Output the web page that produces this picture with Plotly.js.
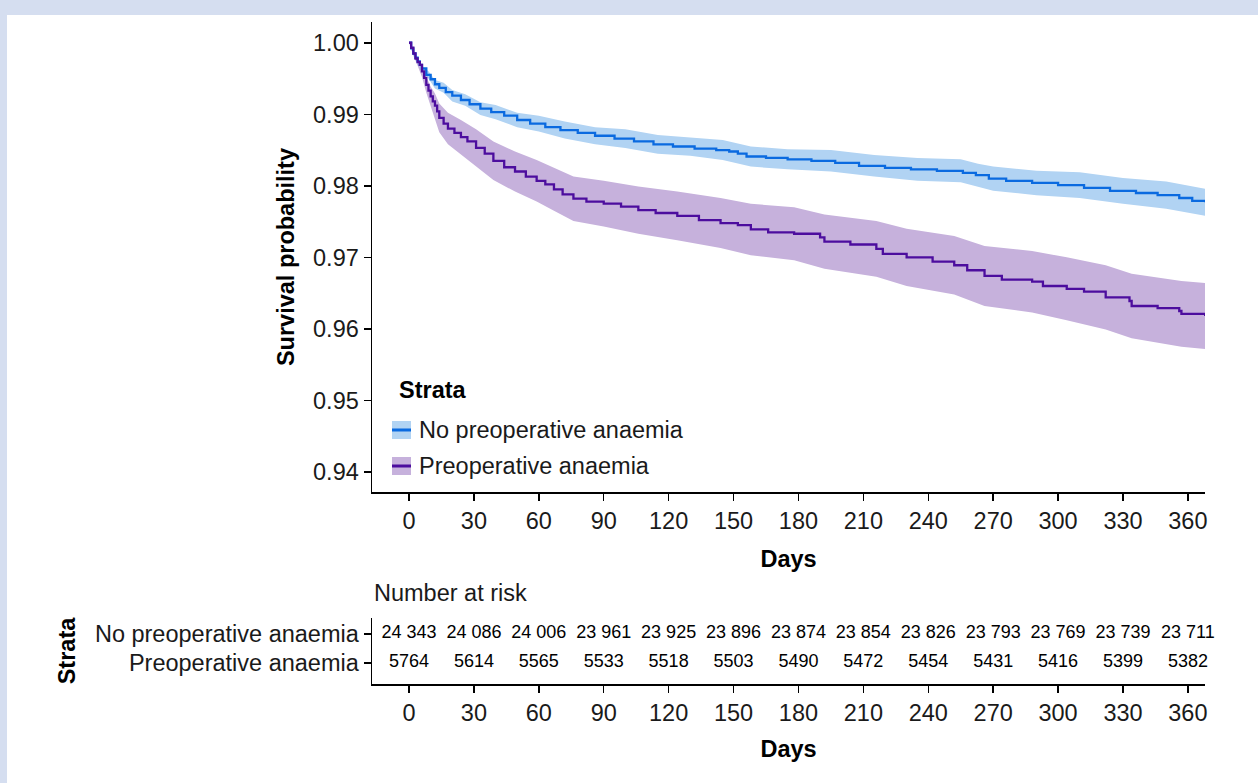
<!DOCTYPE html>
<html>
<head>
<meta charset="utf-8">
<script src="https://cdn.plot.ly/plotly-3.0.1.min.js"></script>
<style>
html,body{margin:0;padding:0;background:#d5def0;overflow:hidden;}
#chart{position:absolute;left:7px;top:15px;width:1251px;height:768px;background:#fff;}
</style>
</head>
<body>
<div id="chart"></div>
<script>
// ---- Data ----
const strataNames = ['No preoperative anaemia', 'Preoperative anaemia'];

const noAnaemiaDays = [0,1,2,3,4,5,6,8,10,12,14,17,20,24,28,33,38,44,50,56,63,70,78,86,95,104,113,122,132,142,148,152,156,165,175,186,197,208,220,232,244,256,262,268,276,288,300,312,324,336,346,356,362,368];
const noAnaemiaSurv = [1.0000,0.9992,0.9985,0.9979,0.9974,0.9969,0.9964,0.9955,0.9949,0.9942,0.9937,0.9931,0.9926,0.9920,0.9914,0.9908,0.9903,0.9898,0.9892,0.9887,0.9882,0.9878,0.9874,0.9870,0.9866,0.9862,0.9858,0.9855,0.9852,0.9850,0.9848,0.9845,0.9841,0.9839,0.9837,0.9835,0.9832,0.9828,0.9825,0.9823,0.9821,0.9818,0.9815,0.9810,0.9807,0.9804,0.9801,0.9797,0.9793,0.9790,0.9787,0.9783,0.9779,0.9777];

const noAnaemiaBandDays = [0,2,4,6,9,12,16,20,26,33,40,50,60,72,86,100,115,130,145,152,158,175,195,215,235,255,263,270,290,310,330,350,368];
const noAnaemiaUpper = [1.0000,0.9987,0.9977,0.9968,0.9960,0.9948,0.9944,0.9934,0.9928,0.9917,0.9913,0.9902,0.9898,0.9890,0.9882,0.9879,0.9871,0.9868,0.9864,0.9859,0.9855,0.9851,0.9850,0.9843,0.9839,0.9837,0.9831,0.9827,0.9821,0.9819,0.9811,0.9806,0.9796];
const noAnaemiaLower = [1.0000,0.9983,0.9971,0.9960,0.9950,0.9936,0.9930,0.9918,0.9912,0.9899,0.9893,0.9882,0.9876,0.9866,0.9858,0.9853,0.9845,0.9842,0.9836,0.9831,0.9827,0.9823,0.9820,0.9813,0.9807,0.9805,0.9799,0.9793,0.9787,0.9783,0.9775,0.9768,0.9758];

const anaemiaDays = [0,1,2,3,4,5,6,7,8,9,10,11,12,13,14,16,18,21,24,27,31,35,39,44,49,54,59,63,67,71,76,82,90,98,106,114,124,134,144,152,158,166,178,190,192,204,216,219,230,242,252,258,266,274,288,293,304,312,322,333,334,346,356,357,368];
const anaemiaSurv = [1.0000,0.9993,0.9985,0.9978,0.9973,0.9969,0.9960,0.9951,0.9941,0.9933,0.9925,0.9918,0.9912,0.9904,0.9895,0.9887,0.9880,0.9874,0.9868,0.9862,0.9853,0.9845,0.9835,0.9826,0.9820,0.9813,0.9807,0.9802,0.9795,0.9788,0.9782,0.9778,0.9775,0.9771,0.9766,0.9762,0.9758,0.9752,0.9748,0.9745,0.9739,0.9735,0.9733,0.9728,0.9722,0.9718,0.9712,0.9705,0.9700,0.9694,0.9689,0.9682,0.9674,0.9669,0.9666,0.9660,0.9656,0.9652,0.9644,0.9639,0.9632,0.9629,0.9625,0.9621,0.9618];

const anaemiaBandDays = [0,2,4,6,8,10,12,14,18,24,31,39,49,59,67,76,90,106,124,144,158,178,192,216,230,252,266,288,304,322,334,357,368];
const anaemiaUpper = [1.0000,0.9988,0.9978,0.9968,0.9952,0.9939,0.9929,0.9915,0.9902,0.9892,0.9879,0.9862,0.9848,0.9836,0.9825,0.9813,0.9807,0.9799,0.9792,0.9783,0.9775,0.9770,0.9760,0.9751,0.9740,0.9730,0.9716,0.9709,0.9700,0.9689,0.9677,0.9667,0.9664];
const anaemiaLower = [1.0000,0.9982,0.9968,0.9952,0.9930,0.9911,0.9895,0.9875,0.9858,0.9844,0.9827,0.9808,0.9792,0.9778,0.9765,0.9751,0.9743,0.9733,0.9724,0.9713,0.9703,0.9696,0.9684,0.9673,0.9660,0.9648,0.9632,0.9623,0.9612,0.9599,0.9587,0.9575,0.9572];

const riskDays = [0,30,60,90,120,150,180,210,240,270,300,330,360];
const riskNoAnaemia = [24343,24086,24006,23961,23925,23896,23874,23854,23826,23793,23769,23739,23711];
const riskAnaemia = [5764,5614,5565,5533,5518,5503,5490,5472,5454,5431,5416,5399,5382];

const survTicks = [0.94,0.95,0.96,0.97,0.98,0.99,1.00];
const survTickText = ['0.94','0.95','0.96','0.97','0.98','0.99','1.00'];

// ---- Styling ----
const FONT = 'Liberation Sans, Arial, Helvetica, sans-serif';
const FS = 23.5;
const BLUE = '#0a6ae0', BLUE_BAND = '#b1d3f3';
const PURPLE = '#4c0d9e', PURPLE_BAND = '#c6b1dc';
const X_RANGE = [-17.1, 367.9];

function fmt(n){
  const s = String(n);
  return n >= 10000 ? s.slice(0, s.length-3) + ' ' + s.slice(-3) : s;
}

const traces = [
  {x: anaemiaBandDays, y: anaemiaLower, type:'scatter', mode:'lines', line:{width:0}, showlegend:false, hoverinfo:'skip'},
  {x: anaemiaBandDays, y: anaemiaUpper, type:'scatter', mode:'lines', line:{width:0}, fill:'tonexty', fillcolor: PURPLE_BAND, showlegend:false, hoverinfo:'skip'},
  {x: noAnaemiaBandDays, y: noAnaemiaLower, type:'scatter', mode:'lines', line:{width:0}, showlegend:false, hoverinfo:'skip'},
  {x: noAnaemiaBandDays, y: noAnaemiaUpper, type:'scatter', mode:'lines', line:{width:0}, fill:'tonexty', fillcolor: BLUE_BAND, showlegend:false, hoverinfo:'skip'},
  {x: noAnaemiaDays, y: noAnaemiaSurv, type:'scatter', mode:'lines', name: strataNames[0], line:{color: BLUE, width:2.3, shape:'hv'}, showlegend:false},
  {x: anaemiaDays, y: anaemiaSurv, type:'scatter', mode:'lines', name: strataNames[1], line:{color: PURPLE, width:2.3, shape:'hv'}, showlegend:false},
  {x: riskDays, y: riskDays.map(()=>strataNames[0]), text: riskNoAnaemia.map(fmt), type:'scatter', mode:'text', xaxis:'x2', yaxis:'y2', cliponaxis:false, textfont:{family:FONT, size:18, color:'#000'}, showlegend:false, hoverinfo:'skip'},
  {x: riskDays, y: riskDays.map(()=>strataNames[1]), text: riskAnaemia.map(fmt), type:'scatter', mode:'text', xaxis:'x2', yaxis:'y2', cliponaxis:false, textfont:{family:FONT, size:18, color:'#000'}, showlegend:false, hoverinfo:'skip'}
];

const axisCommon = {
  showline:true, linecolor:'#000', linewidth:1.5, ticks:'outside', ticklen:7, tickwidth:1.5, tickcolor:'#000',
  showgrid:false, zeroline:false, tickfont:{family:FONT, size:FS, color:'#1a1a1a'}
};

// legend drawn from shapes + annotations (paper coordinates)
const legX0 = 0.0240, legX1 = 0.0468;
const legRows = [{yc:0.3837, band:BLUE_BAND, line:BLUE, name:strataNames[0]}, {yc:0.3293, band:PURPLE_BAND, line:PURPLE, name:strataNames[1]}];
const shapes = [];
const annotations = [];
legRows.forEach(r => {
  shapes.push({type:'rect', xref:'paper', yref:'paper', x0:legX0, x1:legX1, y0:r.yc-0.0136, y1:r.yc+0.0136, fillcolor:r.band, line:{width:0}});
  shapes.push({type:'line', xref:'paper', yref:'paper', x0:legX0, x1:legX1, y0:r.yc, y1:r.yc, line:{color:r.line, width:3}});
  annotations.push({xref:'paper', yref:'paper', x:0.0540, y:r.yc, xanchor:'left', yanchor:'middle', text:r.name, showarrow:false, font:{family:FONT, size:FS, color:'#1a1a1a'}});
});
annotations.push({xref:'paper', yref:'paper', x:0.0300, y:0.4441, xanchor:'left', yanchor:'middle', text:'<b>Strata</b>', showarrow:false, font:{family:FONT, size:FS, color:'#000'}});
annotations.push({xref:'paper', yref:'paper', x:0.0, y:0.1375, xanchor:'left', yanchor:'middle', text:'Number at risk', showarrow:false, font:{family:FONT, size:FS, color:'#1a1a1a'}});

const layout = {
  width:1251, height:768,
  margin:{l:365, r:53, t:7, b:99},
  paper_bgcolor:'#ffffff', plot_bgcolor:'#ffffff',
  font:{family:FONT, color:'#000'},
  showlegend:false,
  xaxis: Object.assign({}, axisCommon, {domain:[0,1], range:X_RANGE, tickvals:riskDays, anchor:'y',
    title:{text:'<b>Days</b>', font:{family:FONT, size:FS, color:'#000'}, standoff:18}}),
  yaxis: Object.assign({}, axisCommon, {domain:[0.29,1], range:[0.9372, 1.0029], tickvals:survTicks, ticktext:survTickText, anchor:'x',
    title:{text:'<b>Survival probability</b>', font:{family:FONT, size:FS, color:'#000'}, standoff:12}}),
  xaxis2: Object.assign({}, axisCommon, {domain:[0,1], range:X_RANGE, tickvals:riskDays, anchor:'y2',
    title:{text:'<b>Days</b>', font:{family:FONT, size:FS, color:'#000'}, standoff:16}}),
  yaxis2: Object.assign({}, axisCommon, {domain:[0,0.0997], type:'category', categoryorder:'array', categoryarray:[strataNames[1], strataNames[0]],
    range:[-0.723, 1.55], anchor:'x2',
    title:{text:'<b>Strata</b>', font:{family:FONT, size:FS, color:'#000'}, standoff:12}}),
  shapes: shapes,
  annotations: annotations
};

Plotly.newPlot('chart', traces, layout, {staticPlot:true, displayModeBar:false});
</script>
</body>
</html>
